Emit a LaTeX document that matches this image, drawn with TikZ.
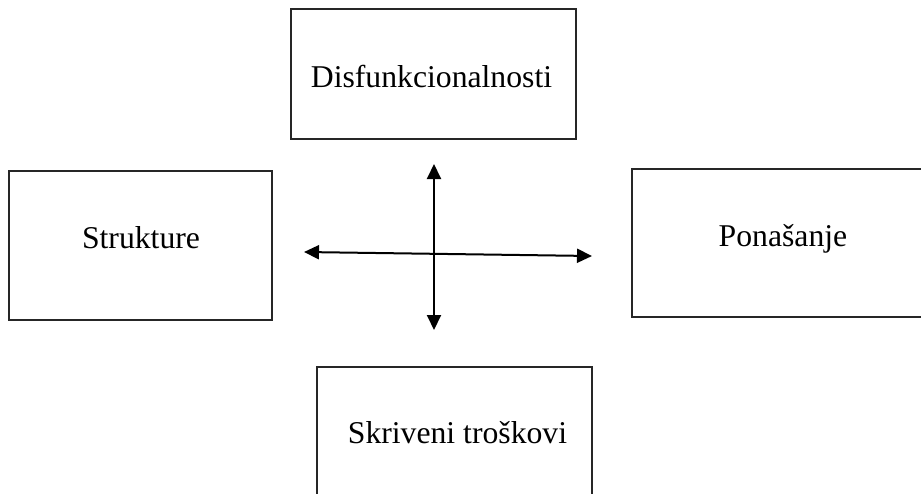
\documentclass[tikz,border=0pt]{standalone}
\usepackage{fontspec}
\setmainfont{Liberation Serif}
\usetikzlibrary{arrows.meta}
\colorlet{boxline}{black!85}
\colorlet{arrline}{black}

\begin{document}
\begin{tikzpicture}[x=1pt, y=-1pt,
        box/.style={draw=boxline, line width=1.2pt, inner sep=0pt},
        lbl/.style={anchor=base, inner sep=0pt, font=\fontsize{31.7pt}{38pt}\selectfont},
        arr/.style={arrline, line width=2pt, {Triangle[length=15pt,width=14pt]}-{Triangle[length=15pt,width=14pt]}}]
        \useasboundingbox (0,0) rectangle (921,493);
        \clip (0,0) rectangle (921,493);
        % boxes
        \node[box, minimum width=285pt, minimum height=130pt] (disf) at (433.5,74) {};
        \node[box, minimum width=263pt, minimum height=149pt] (strukt) at (140.5,245.5) {};
        \node[box, minimum width=308pt, minimum height=148pt] (ponas) at (786,243) {};
        \node[box, minimum width=275pt, minimum height=130pt] (skriv) at (454.5,432) {};
        % texts
        \node[lbl] (tdisf) at (431.5,87) {Disfunkcionalnosti};
        \node[lbl] (tstrukt) at (141,248) {Strukture};
        \node[lbl] (tponas) at (783,246) {Ponašanje};
        \node[lbl] (tskriv) at (457.5,443) {Skriveni troškovi};
        % cross of arrows
        \coordinate (vtop) at (434,164);
        \coordinate (vbot) at (434,330);
        \coordinate (hleft) at (304,252);
        \coordinate (hright) at (592,256);
        \draw[arr] (vtop) -- (vbot);
        \draw[arr] (hleft) -- (hright);
\end{tikzpicture}
\end{document}
